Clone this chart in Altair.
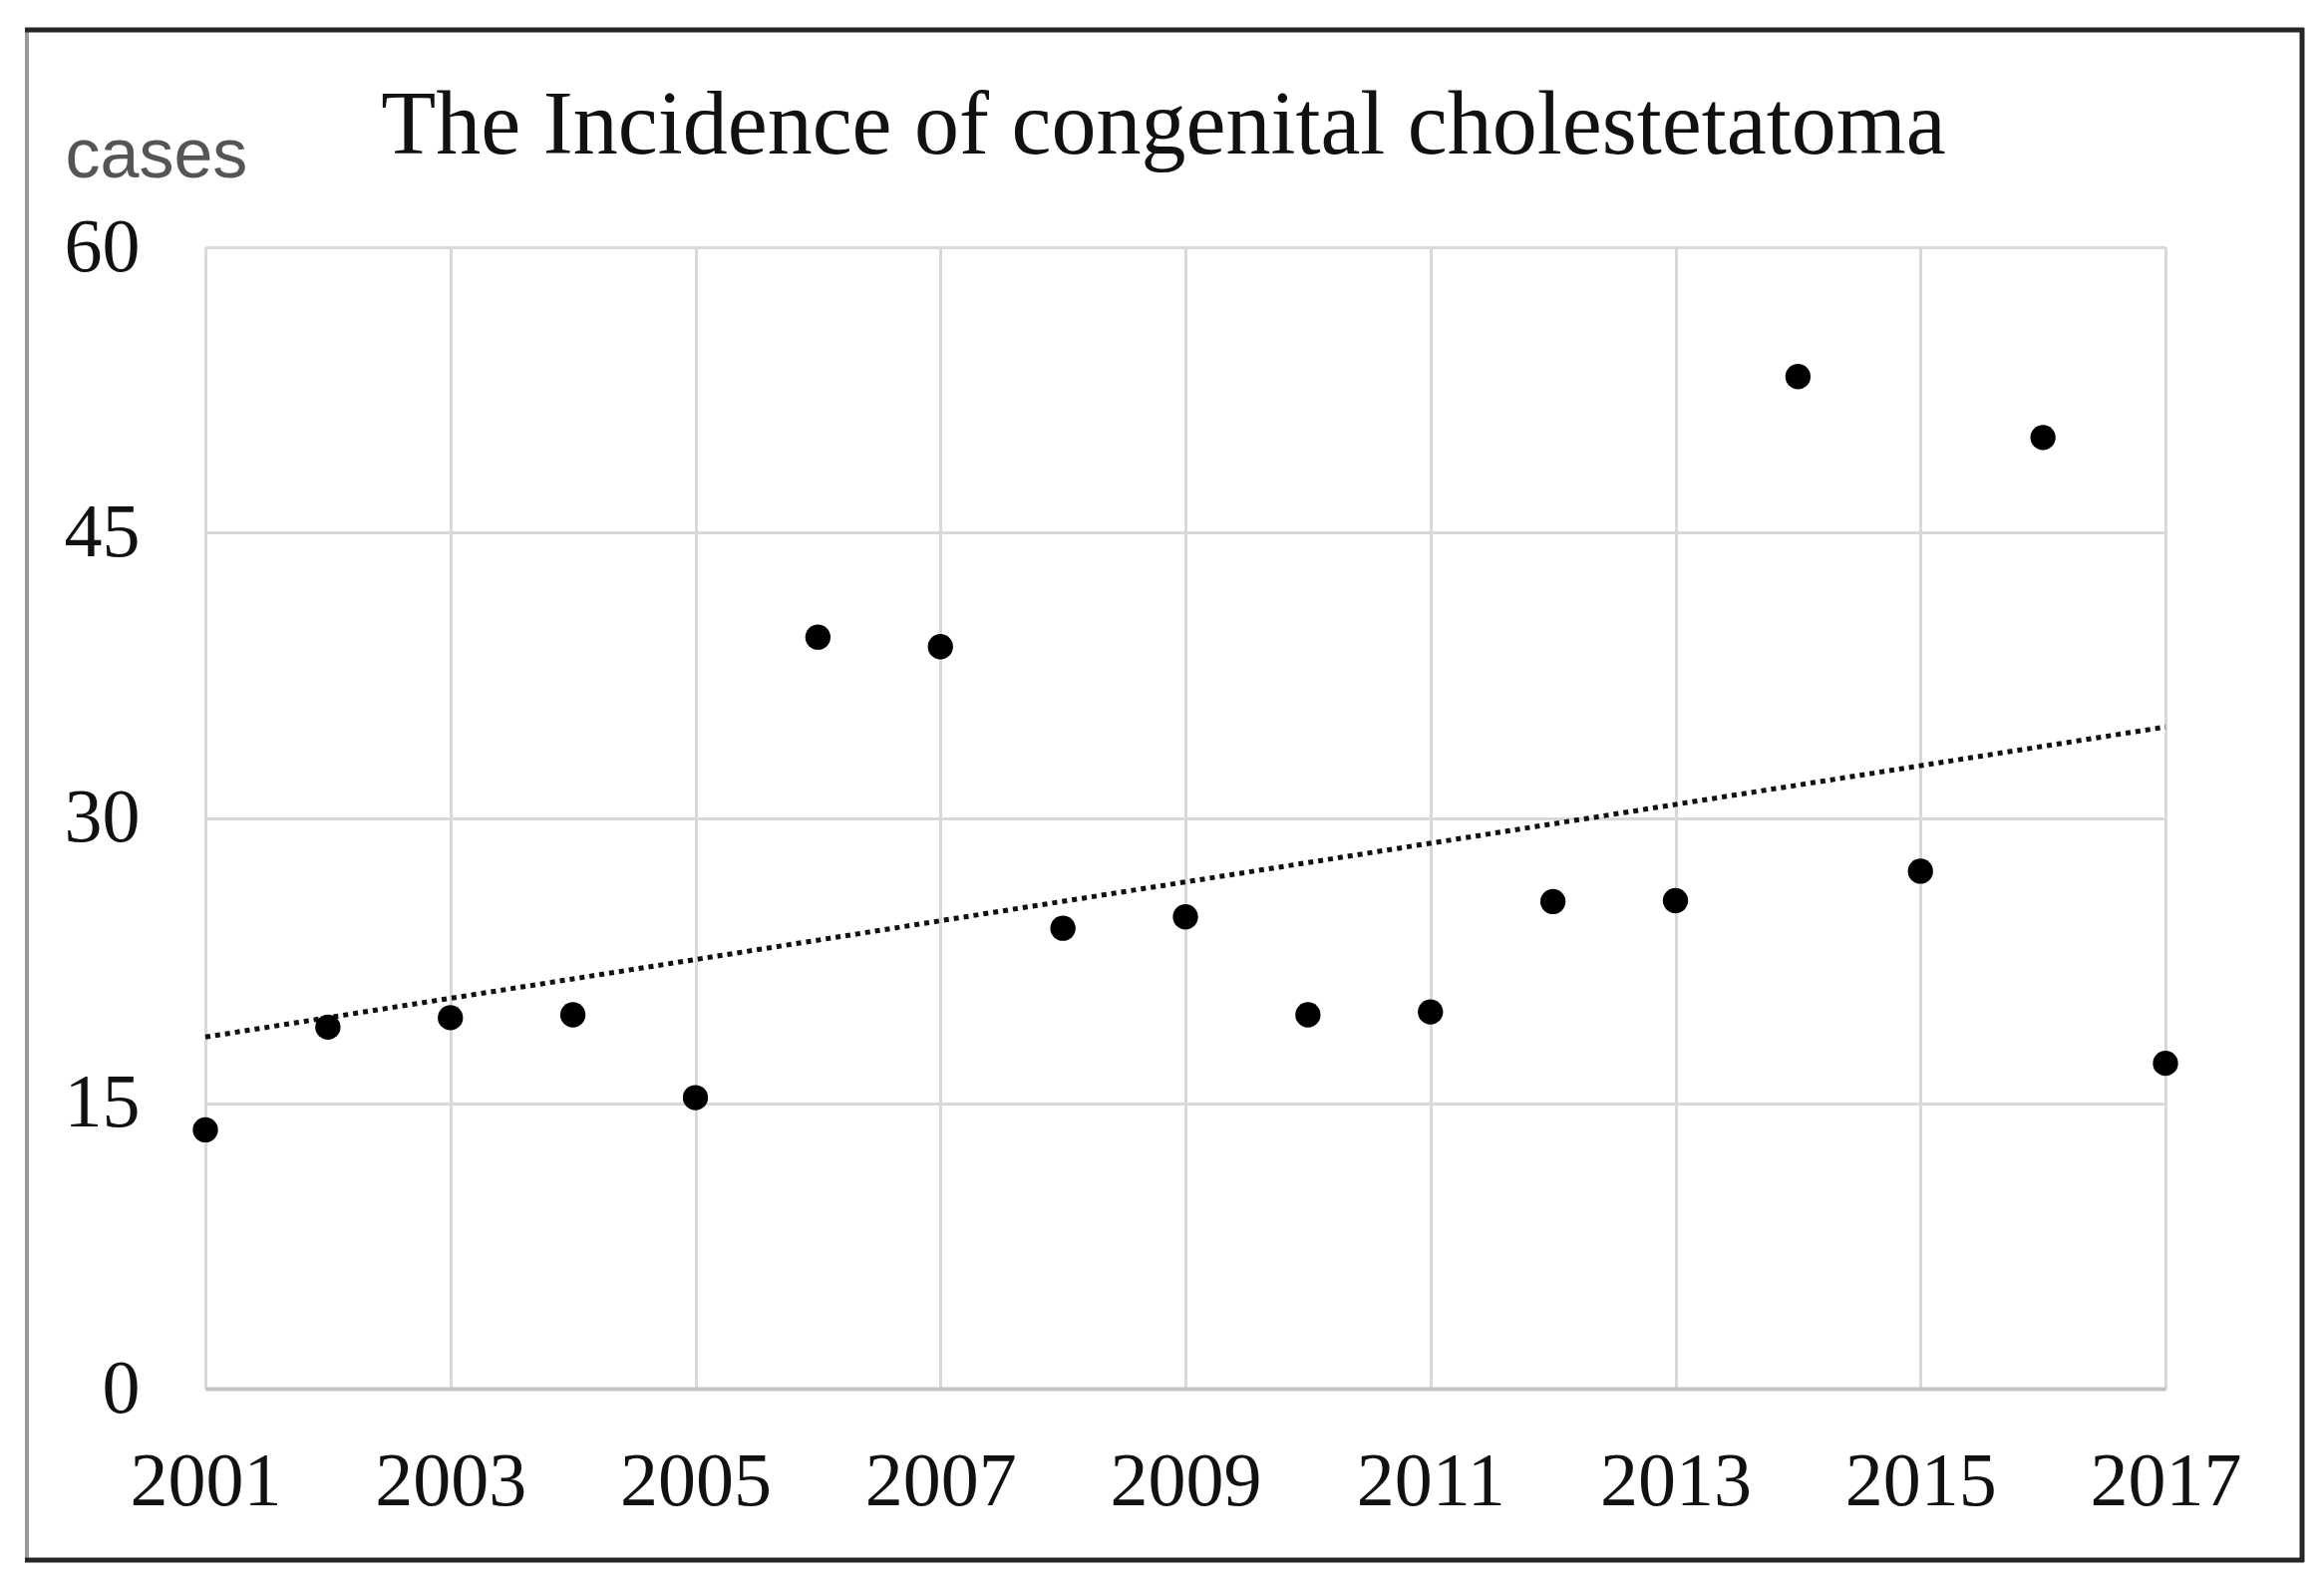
import altair as alt
import pandas as pd

years = list(range(2001, 2018))
cases = [13.6, 19.0, 19.5, 19.65, 15.3, 39.5, 39.0, 24.2, 24.8,
         19.65, 19.8, 25.6, 25.65, 53.2, 27.2, 50.0, 17.1]
x_ticks = [2001, 2003, 2005, 2007, 2009, 2011, 2013, 2015, 2017]
y_ticks = [0, 15, 30, 45, 60]
title_text = "The Incidence of congenital cholestetatoma"
y_title = "cases"

df = pd.DataFrame({"year": years, "cases": cases})

W, H = 1966, 1145

x_enc = alt.X(
    "year:Q",
    scale=alt.Scale(domain=[2001, 2017], nice=False, zero=False),
    axis=alt.Axis(
        values=x_ticks, format="d", title=None, ticks=False, tickSize=0,
        labelPadding=56, labelFont="Liberation Serif", labelFontSize=76,
        labelColor="#111111", labelFlush=False, labelOverlap=False,
        grid=True, gridColor="#d9d9d9", gridWidth=3,
        domain=True, domainColor="#c4c4c4", domainWidth=4,
    ),
)
y_enc = alt.Y(
    "cases:Q",
    scale=alt.Scale(domain=[0, 60], nice=False),
    axis=alt.Axis(
        values=y_ticks, title=y_title, ticks=False, tickSize=0,
        labelPadding=66, labelFont="Liberation Serif", labelFontSize=76,
        labelColor="#111111", labelBaseline="middle",
        grid=True, gridColor="#d9d9d9", gridWidth=3, domain=False,
        titleAngle=0, titleAlign="left", titleBaseline="alphabetic",
        titleX=-141, titleY=-71, titleFont="Liberation Sans",
        titleFontSize=70, titleFontWeight="normal", titleColor="#555555",
    ),
)

points = alt.Chart(df).mark_circle(size=640, color="#000000", opacity=1).encode(
    x=x_enc, y=y_enc
)

trend = (
    alt.Chart(df)
    .transform_regression("year", "cases")
    .mark_line(color="#111111", strokeWidth=5, strokeDash=[5, 5])
    .encode(x="year:Q", y="cases:Q")
)

frame_df = pd.DataFrame({"k": [0]})
base_frame = alt.Chart(frame_df)
frame_left = base_frame.mark_rule(color="#9a9a9a", strokeWidth=4).encode(
    x=alt.value(-179), y=alt.value(-220), y2=alt.value(1319)
)
frame_top = base_frame.mark_rule(color="#262626", strokeWidth=5).encode(
    x=alt.value(-181), x2=alt.value(2105), y=alt.value(-218)
)
frame_right = base_frame.mark_rule(color="#262626", strokeWidth=5).encode(
    x=alt.value(2103), y=alt.value(-220), y2=alt.value(1319)
)
frame_bottom = base_frame.mark_rule(color="#262626", strokeWidth=5).encode(
    x=alt.value(-181), x2=alt.value(2105), y=alt.value(1317)
)

chart = (
    alt.layer(trend, points, frame_left, frame_top, frame_right, frame_bottom)
    .properties(
        width=W,
        height=H,
        title=alt.TitleParams(
            text=title_text, font="Liberation Serif", fontSize=90,
            fontWeight="normal", color="#111111", anchor="middle",
            frame="group", baseline="alphabetic", offset=0, dx=-22, dy=218,
        ),
        autosize=alt.AutoSizeParams(type="none"),
        padding={"left": 198, "top": 240, "right": 140, "bottom": 180},
    )
    .configure_view(stroke=None)
    .configure(background="white")
)

chart.save("out.html", embed_options={"renderer": "svg", "actions": False})
